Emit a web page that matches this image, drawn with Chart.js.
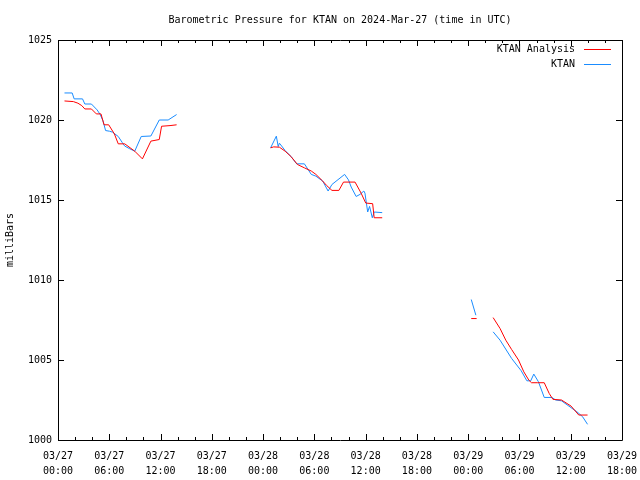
<!DOCTYPE html>
<html><head><meta charset="utf-8">
<script src="https://cdn.jsdelivr.net/npm/chart.js@4.4.1/dist/chart.umd.min.js"></script>
<style>html,body{margin:0;padding:0;background:#fff}</style>
</head><body>
<canvas id="c" width="640" height="480"></canvas>
<script>
// Hours since 2024-03-27 00:00 UTC
const xTickLabels = [
  ['03/27','00:00'],['03/27','06:00'],['03/27','12:00'],['03/27','18:00'],
  ['03/28','00:00'],['03/28','06:00'],['03/28','12:00'],['03/28','18:00'],
  ['03/29','00:00'],['03/29','06:00'],['03/29','12:00'],['03/29','18:00']
];
const yTickValues = [1000, 1005, 1010, 1015, 1020, 1025];
const chartTitle = 'Barometric Pressure for KTAN on 2024-Mar-27 (time in UTC)';

const ktanHours = [
  0.76,1.66,1.89,2.87,3.14,3.91,4.58,4.94,5.25,5.57,6.02,6.38,7.05,7.50,7.81,8.40,8.98,9.74,10.87,11.85,12.89,13.88,
  19,
  24.88,25.55,25.77,25.91,26.58,27.26,27.93,28.83,29.64,30.18,30.98,31.61,32.06,33.54,33.99,34.31,34.89,35.34,35.79,35.92,36.24,36.46,36.78,37.00,37.94,
  43,
  48.36,48.90,
  50,
  50.92,51.73,53.08,54.20,54.87,55.32,55.68,56.22,56.90,57.79,58.24,58.92,60.04,60.71,61.38,61.97
];
const ktanValues = [
  1021.69,1021.69,1021.32,1021.32,1021.0,1021.0,1020.63,1020.34,1019.97,1019.34,1019.30,1019.24,1018.97,1018.61,1018.37,1018.2,1018.05,1018.97,1019.0,1020.0,1020.0,1020.34,
  null,
  1018.26,1018.99,1018.34,1018.55,1018.09,1017.72,1017.26,1017.26,1016.60,1016.49,1016.18,1015.56,1015.97,1016.60,1016.26,1015.81,1015.22,1015.35,1015.56,1015.43,1014.25,1014.60,1013.89,1014.25,1014.21,
  null,
  1008.78,1007.8,
  null,
  1006.76,1006.24,1005.1,1004.33,1003.70,1003.70,1004.12,1003.64,1002.66,1002.66,1002.50,1002.45,1002.02,1001.77,1001.46,1000.98
];

const analysisHours = [
  0.76,1.80,2.33,2.78,3.14,3.91,4.49,5.03,5.39,5.93,6.60,7.05,7.81,8.98,9.88,10.87,11.85,12.12,13.11,13.88,
  19,
  24.88,25.24,25.91,26.58,27.26,28.02,28.83,29.64,30.18,30.98,31.43,32.06,32.87,33.41,34.76,35.47,36.01,36.82,37.00,37.94,
  43,
  48.36,48.99,
  50,
  50.92,51.73,52.40,53.08,53.89,54.51,55.10,55.41,56.13,56.90,57.48,57.92,58.92,60.04,60.94,61.97
];
const analysisValues = [
  1021.19,1021.15,1021.05,1020.9,1020.69,1020.69,1020.38,1020.38,1019.70,1019.70,1019.13,1018.51,1018.51,1018.05,1017.57,1018.68,1018.78,1019.61,1019.65,1019.70,
  null,
  1018.26,1018.32,1018.30,1018.05,1017.72,1017.22,1017.01,1016.81,1016.6,1016.18,1015.91,1015.6,1015.6,1016.12,1016.12,1015.43,1014.81,1014.77,1013.89,1013.89,
  null,
  1007.59,1007.59,
  null,
  1007.65,1006.97,1006.24,1005.66,1005.0,1004.26,1003.74,1003.58,1003.58,1003.58,1002.91,1002.54,1002.50,1002.12,1001.56,1001.56
];

const FONT = 'DejaVu Sans Mono';
const RED = '#ff0000';
const BLUE = '#1a8cff';

function pts(xs, ys) { return xs.map((x, i) => ({ x: x, y: ys[i] })); }

const framePlugin = {
  id: 'frame',
  afterDraw(chart) {
    const ctx = chart.ctx, a = chart.chartArea;
    const xs = chart.scales.x, ys = chart.scales.y;
    ctx.save();
    // title centred over the plot area
    ctx.font = '10px "' + FONT + '"';
    ctx.fillStyle = '#000';
    ctx.textAlign = 'center';
    ctx.textBaseline = 'middle';
    ctx.fillText(chartTitle, (a.left + a.right) / 2, 20);

    ctx.strokeStyle = '#000';
    ctx.lineWidth = 1;
    ctx.beginPath();
    ctx.rect(Math.round(a.left) + 0.5, Math.round(a.top) + 0.5, Math.round(a.right - a.left), Math.round(a.bottom - a.top));
    ctx.stroke();
    ctx.beginPath();
    for (let h = 0; h <= 66; h += 2) {
      const px = Math.round(xs.getPixelForValue(h)) + 0.5;
      const len = (h % 6 === 0) ? 6 : 3;
      ctx.moveTo(px, a.bottom); ctx.lineTo(px, a.bottom - len);
      ctx.moveTo(px, a.top); ctx.lineTo(px, a.top + len);
    }
    yTickValues.forEach(v => {
      const py = Math.round(ys.getPixelForValue(v)) + 0.5;
      ctx.moveTo(a.left, py); ctx.lineTo(a.left + 6, py);
      ctx.moveTo(a.right, py); ctx.lineTo(a.right - 6, py);
    });
    ctx.stroke();
    // legend (gnuplot style: text then line sample)
    ctx.textAlign = 'right';
    chart.data.datasets.forEach((ds, i) => {
      const y = a.top + 9 + i * 15;
      ctx.fillStyle = '#000';
      ctx.fillText(ds.label, a.right - 47, y);
      ctx.strokeStyle = ds.borderColor;
      ctx.beginPath();
      ctx.moveTo(a.right - 38, Math.round(y) + 0.5);
      ctx.lineTo(a.right - 11, Math.round(y) + 0.5);
      ctx.stroke();
    });
    ctx.restore();
  }
};

new Chart(document.getElementById('c'), {
  type: 'line',
  data: {
    datasets: [
      { label: 'KTAN Analysis', data: pts(analysisHours, analysisValues), borderColor: RED, borderWidth: 1, pointRadius: 0, tension: 0, spanGaps: false },
      { label: 'KTAN', data: pts(ktanHours, ktanValues), borderColor: BLUE, borderWidth: 1, pointRadius: 0, tension: 0, spanGaps: false }
    ]
  },
  options: {
    responsive: false,
    animation: false,
    devicePixelRatio: 1,
    layout: { padding: { left: 0, right: 18, top: 40, bottom: 0 } },
    plugins: {
      legend: { display: false },
      tooltip: { enabled: false },
      title: { display: false }
    },
    scales: {
      x: {
        type: 'linear',
        min: 0, max: 66,
        grid: { display: false, drawTicks: false },
        border: { display: false },
        afterBuildTicks: (s) => { s.ticks = xTickLabels.map((_, i) => ({ value: i * 6 })); },
        afterFit: (s) => { s.height = 40; s.paddingLeft = 0; s.paddingRight = 0; },
        ticks: {
          autoSkip: false, maxRotation: 0, minRotation: 0,
          padding: 9,
          color: '#000',
          font: { family: FONT, size: 10, lineHeight: 1.5 },
          callback: (v) => xTickLabels[Math.round(v / 6)]
        }
      },
      y: {
        min: 1000, max: 1025,
        grid: { display: false, drawTicks: false },
        border: { display: false },
        afterBuildTicks: (s) => { s.ticks = yTickValues.map(v => ({ value: v })); },
        afterFit: (s) => { s.width = 58; s.paddingTop = 0; s.paddingBottom = 0; },
        title: { display: true, text: 'milliBars', color: '#000', font: { family: FONT, size: 10 }, padding: { top: 4, bottom: 0 } },
        ticks: {
          padding: 6,
          color: '#000',
          font: { family: FONT, size: 10 },
          callback: (v) => String(v)
        }
      }
    }
  },
  plugins: [framePlugin]
});
</script>
</body></html>
